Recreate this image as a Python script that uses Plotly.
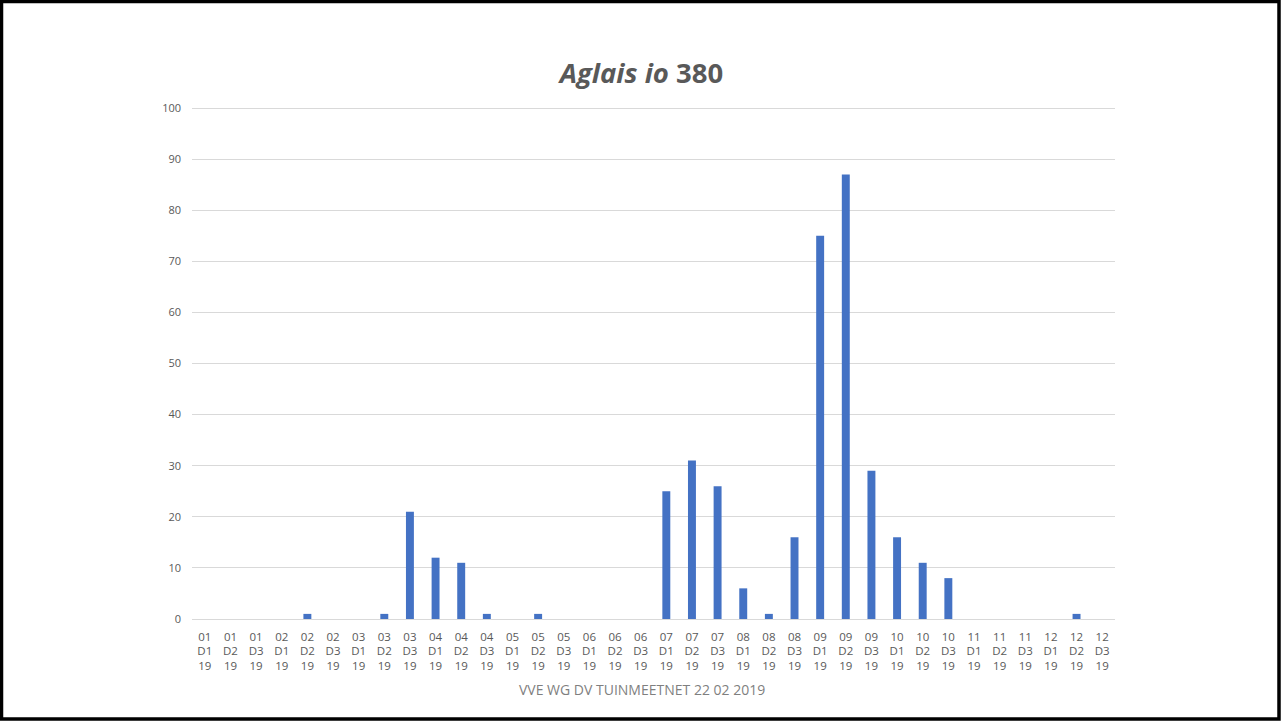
import plotly.graph_objects as go

months = ["01", "02", "03", "04", "05", "06", "07", "08", "09", "10", "11", "12"]
decades = ["D1", "D2", "D3"]
year = "19"
categories = [f"{m}<br>{d}<br>{year}" for m in months for d in decades]
values = [0, 0, 0,
          0, 1, 0,
          0, 1, 21,
          12, 11, 1,
          0, 1, 0,
          0, 0, 0,
          25, 31, 26,
          6, 1, 16,
          75, 87, 29,
          16, 11, 8,
          0, 0, 0,
          0, 1, 0]
title_text = "<i>Aglais io</i> 380"
footer_text = "VVE WG DV TUINMEETNET 22 02 2019"
y_ticks = list(range(0, 101, 10))

W, H = 1283, 722
ml, mr, mt, mb = 192, 168, 103, 103
pw, ph = W - ml - mr, H - mt - mb
base_y = H - mb  # pixel row of the plot bottom

fig = go.Figure(go.Bar(x=categories, y=values, marker=dict(color="#4472C4", line=dict(width=0)),
                       hoverinfo="x+y"))

font_family = "Open Sans, DejaVu Sans, sans-serif"
grey = "#595959"

fig.update_layout(
    width=W, height=H,
    margin=dict(l=ml, r=mr, t=mt, b=mb, pad=0),
    paper_bgcolor="white", plot_bgcolor="white",
    bargap=0.69,
    showlegend=False,
    font=dict(family=font_family, color=grey),
    title=dict(text=title_text, x=0.5, xanchor="center", xref="container",
               y=1 - 73 / H, yanchor="middle", yref="container",
               font=dict(size=27.5, color=grey, family=font_family, weight="bold")),
    xaxis=dict(type="category", showgrid=False, zeroline=False, showline=False,
               ticks="", tickfont=dict(size=11.5, color=grey), tickangle=0,
               ticklabelstandoff=9,
               range=[-0.5, len(categories) - 0.5], fixedrange=True),
    yaxis=dict(range=[0, 101], tickvals=y_ticks, showgrid=True, gridcolor="#D9D9D9",
               gridwidth=1, zeroline=True, zerolinecolor="#D9D9D9", zerolinewidth=1,
               showline=False, ticks="", tickfont=dict(size=11, color=grey),
               ticklabelstandoff=10, fixedrange=True),
)

fig.add_annotation(text=footer_text, xref="paper", yref="paper",
                   x=(W / 2 - ml) / pw, y=(base_y - 689) / ph,
                   showarrow=False, font=dict(size=14, color="#7F7F7F", family=font_family),
                   xanchor="center", yanchor="middle")

# outer frame
fig.add_shape(type="rect", xref="paper", yref="paper",
              x0=(1.5 - ml) / pw, x1=(W - 4 - ml) / pw,
              y0=(base_y - (H - 3)) / ph, y1=(base_y - 1.5) / ph,
              line=dict(color="black", width=3.5), fillcolor="rgba(0,0,0,0)", layer="above")

fig.write_html("out.html", config={"displayModeBar": False},
               post_script="document.body.style.margin='0';document.body.style.overflow='hidden';")
